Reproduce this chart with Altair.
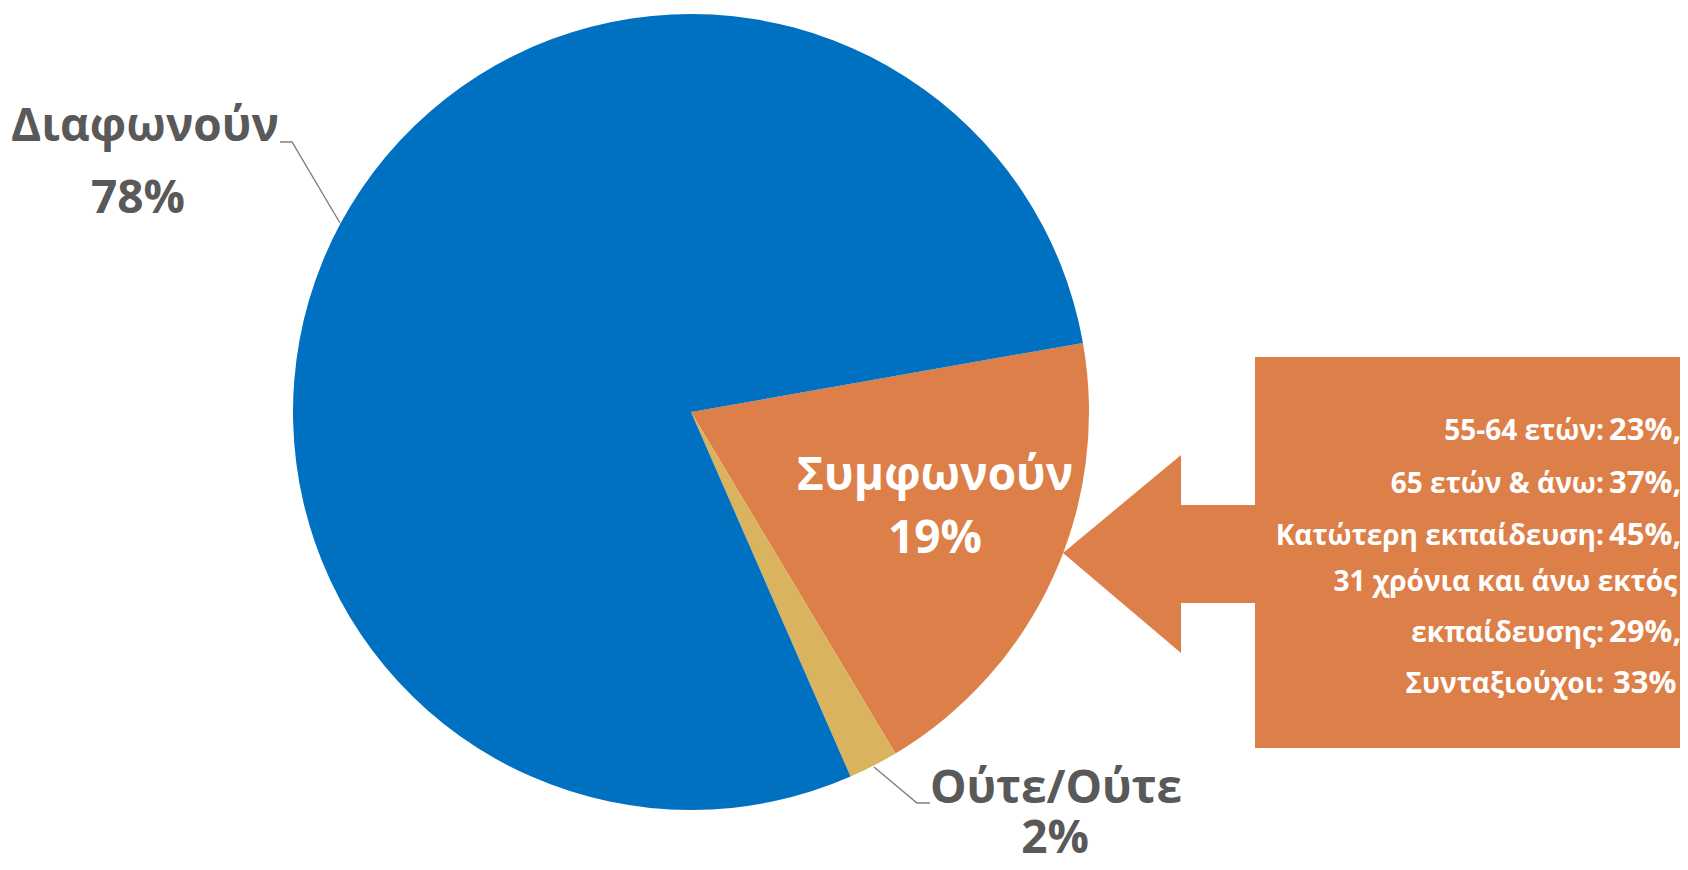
import math
import altair as alt
import pandas as pd

# ---- data ----
slice_labels = ["Συμφωνούν", "Ούτε/Ούτε", "Διαφωνούν"]
slice_values = [19, 2, 78]
slice_colors = ["#DD7F48", "#D9B35E", "#0070C0"]

box_labels = ["55-64 ετών:", "65 ετών & άνω:", "Κατώτερη εκπαίδευση:",
              "31 χρόνια και άνω εκτός", "εκπαίδευσης:", "Συνταξιούχοι:"]
box_values = ["23%,", "37%,", "45%,", "", "29%,", "33%"]

# ---- layout (reference pixel coordinates) ----
W, H = 1672, 854
cx, cy, R = 691, 412, 398
start = math.radians(80)

xs = alt.Scale(domain=[8, 8 + W], range=[0, W])
ys = alt.Scale(domain=[8, 8 + H], range=[0, H])
X = lambda f: alt.X(f, scale=xs, axis=None)
Y = lambda f: alt.Y(f, scale=ys, axis=None)

pie_df = pd.DataFrame({
    "label": slice_labels,
    "value": slice_values,
    "ord": list(range(len(slice_labels))),
    "cx": [cx] * 3,
    "cy": [cy] * 3,
})
pie = alt.Chart(pie_df).mark_arc(radius=R, strokeWidth=0).encode(
    x=X("cx:Q"), y=Y("cy:Q"),
    theta=alt.Theta("value:Q", stack=True,
                    scale=alt.Scale(range=[start, start + 2 * math.pi])),
    order=alt.Order("ord:Q"),
    color=alt.Color("label:N", scale=alt.Scale(domain=slice_labels, range=slice_colors), legend=None),
)

# slice labels: name + percent
lab_df = pd.DataFrame({
    "text": [slice_labels[2], f"{slice_values[2]}%",
             slice_labels[0], f"{slice_values[0]}%",
             slice_labels[1], f"{slice_values[1]}%"],
    "x": [145, 138, 935, 935, 1056, 1055],
    "y": [141, 213, 490, 553, 803, 853],
    "c": ["#595959", "#595959", "#FFFFFF", "#FFFFFF", "#595959", "#595959"],
})
labels = alt.Chart(lab_df).mark_text(
    font="Open Sans", fontWeight="bold", fontSize=46, baseline="alphabetic", align="center"
).encode(x=X("x:Q"), y=Y("y:Q"), text="text:N", color=alt.Color("c:N", scale=None))

# leader lines
lead_df = pd.DataFrame({
    "x": [280, 292, 340, 874, 917, 930],
    "y": [142, 142, 223, 767, 803, 803],
    "g": ["a", "a", "a", "b", "b", "b"],
    "o": [0, 1, 2, 0, 1, 2],
})
leaders = alt.Chart(lead_df).mark_line(color="#808080", strokeWidth=1.4).encode(
    x=X("x:Q"), y=Y("y:Q"), detail="g:N", order="o:Q")

# callout arrow + box
orange = slice_colors[0]
head_df = pd.DataFrame({"x": [1063, 1181], "y": [553, 455], "y2": [553, 653]})
head = alt.Chart(head_df).mark_area(color=orange).encode(
    x=X("x:Q"), y=Y("y:Q"), y2="y2:Q")
rect_df = pd.DataFrame({"x": [1180, 1255], "x2": [1256, 1700],
                        "y": [505, 357], "y2": [603, 748]})
rects = alt.Chart(rect_df).mark_rect(color=orange).encode(
    x=X("x:Q"), x2="x2:Q", y=Y("y:Q"), y2="y2:Q")

base_y = [440, 493, 545, 591, 642, 693]
small_x = [1604, 1604, 1604, 1677, 1604, 1604]
big_x = [1609, 1609, 1609, 1609, 1609, 1613]
small_df = pd.DataFrame({"t": box_labels, "x": small_x, "y": base_y})
big_df = pd.DataFrame({"t": box_values, "x": big_x, "y": base_y})
small_txt = alt.Chart(small_df).mark_text(
    font="Open Sans", fontWeight="bold", fontSize=28, color="white",
    align="right", baseline="alphabetic").encode(x=X("x:Q"), y=Y("y:Q"), text="t:N")
big_txt = alt.Chart(big_df).mark_text(
    font="Open Sans", fontWeight="bold", fontSize=31, color="white",
    align="left", baseline="alphabetic").encode(x=X("x:Q"), y=Y("y:Q"), text="t:N")

chart = alt.layer(pie, leaders, labels, head, rects, small_txt, big_txt).properties(
    width=W, height=H, padding=0,
    autosize=alt.AutoSizeParams(type="none"),
).configure(background="white").configure_view(stroke=None, strokeWidth=0)

chart.save("out.html", embed_options={"renderer": "svg", "actions": False})
